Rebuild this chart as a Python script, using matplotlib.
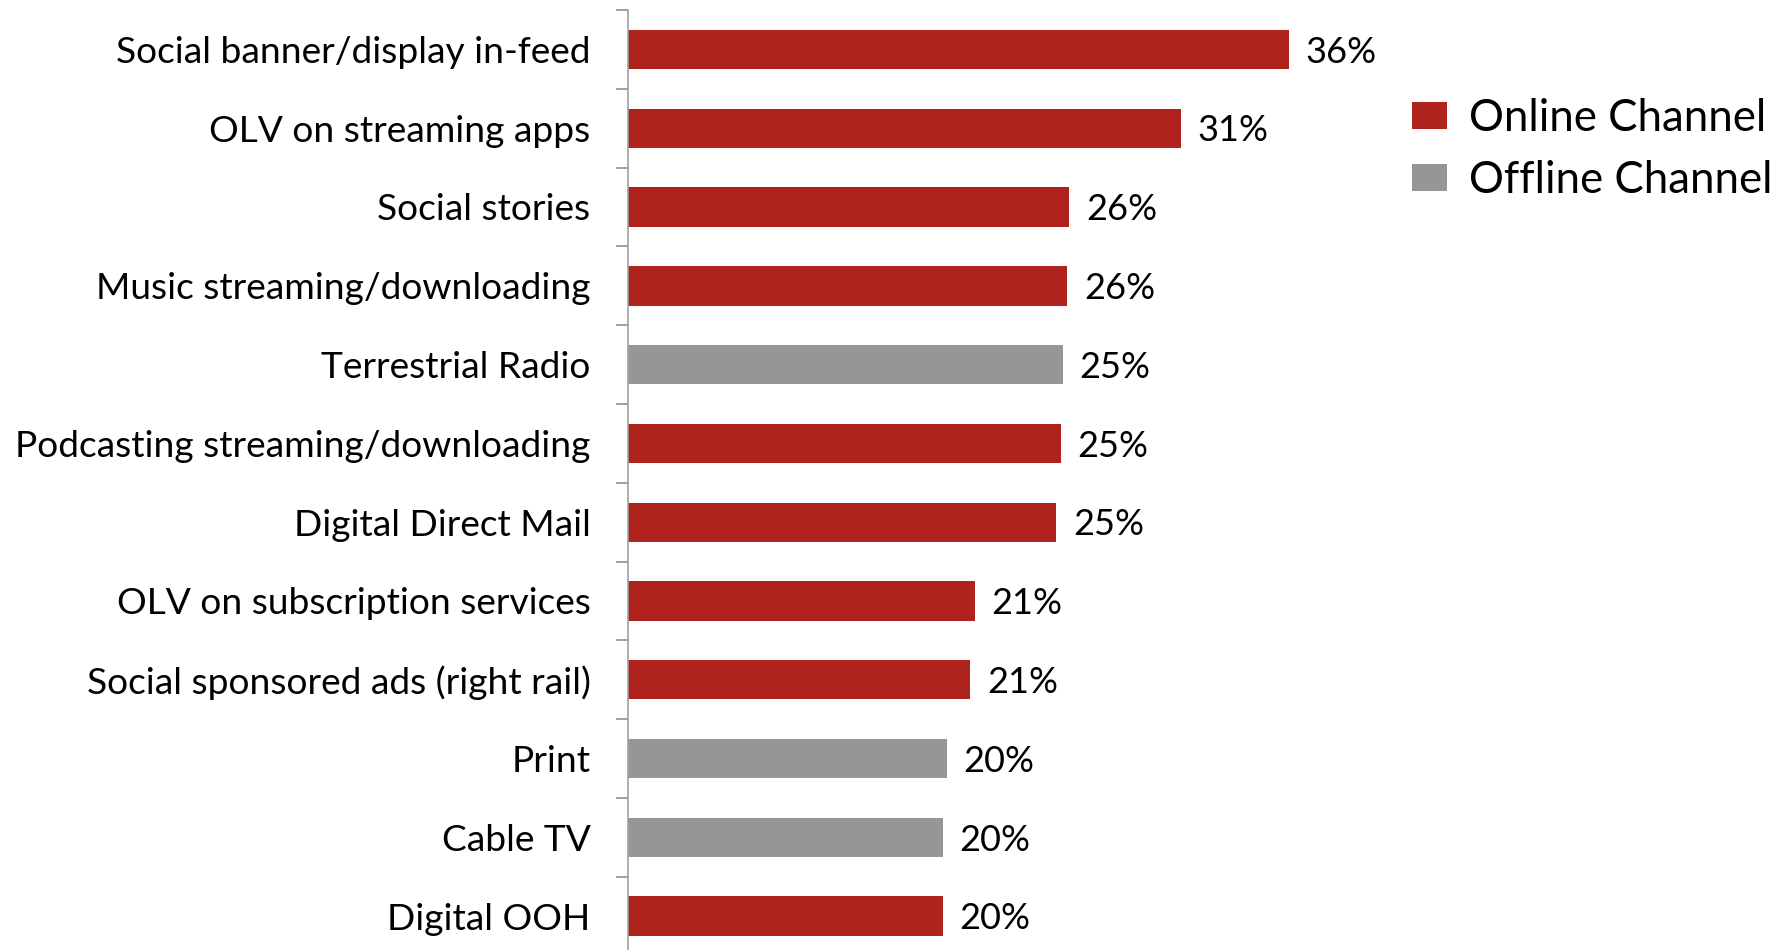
import matplotlib
matplotlib.use("Agg")
import matplotlib.pyplot as plt
from matplotlib.patches import Patch
import numpy as np

# share of respondents per channel, top to bottom
channels = ["Social banner/display in-feed", "OLV on streaming apps", "Social stories",
            "Music streaming/downloading", "Terrestrial Radio", "Podcasting streaming/downloading",
            "Digital Direct Mail", "OLV on subscription services", "Social sponsored ads (right rail)",
            "Print", "Cable TV", "Digital OOH"]
share = [35.9, 30.9, 25.7, 25.6, 25.4, 25.3, 25.1, 21.3, 21.1, 20.0, 19.8, 19.8]
channel_type = ["Online", "Online", "Online", "Online", "Offline", "Online",
                "Online", "Online", "Online", "Offline", "Offline", "Online"]

RED = "#b0231c"
GREY = "#969696"
colors = {"Online": RED, "Offline": GREY}

plt.rcParams["font.family"] = ["Lato", "DejaVu Sans"]

W, H = 1785, 950
fig = plt.figure(figsize=(W / 100, H / 100), dpi=100)

x_min, x_max = 5.17, 41.0
px_per_pct = 21.5
ax_left = 628
ax_top = 10
row_h = 78.8
ax_w = (x_max - x_min) * px_per_pct
ax_h = row_h * len(channels)
ax = fig.add_axes([ax_left / W, (H - ax_top - ax_h) / H, ax_w / W, ax_h / H])

y = np.arange(len(channels))
ax.barh(y, share, height=0.5, color=[colors[t] for t in channel_type], left=0)
ax.set_xlim(x_min, x_max)
ax.set_ylim(len(channels) - 0.5, -0.5)

for yi, v in zip(y, share):
    ax.annotate(f"{v:.0f}%", (v, yi), xytext=(12, -2), textcoords="offset points",
                va="center", ha="left", fontsize=26, color="black")

# category axis: labels without ticks, tick marks between categories
ax.set_yticks(y)
ax.set_yticklabels(channels, fontsize=26.7)
ax.set_yticks(np.arange(-0.5, len(channels), 1.0), minor=True)
ax.tick_params(axis="y", which="major", length=0, pad=27)
ax.tick_params(axis="y", which="minor", length=9, width=1.2, color="#909090")
ax.set_xticks([])
for side in ["top", "right", "bottom"]:
    ax.spines[side].set_visible(False)
ax.spines["left"].set_color("#a0a0a0")
ax.spines["left"].set_linewidth(1.2)

handles = [Patch(facecolor=RED, label="Online Channel"),
           Patch(facecolor=GREY, label="Offline Channel")]
fig.legend(handles=handles, loc="upper left", bbox_to_anchor=(1412 / W, 1 - 98 / H),
           frameon=False, fontsize=31.5, handlelength=0.8, handleheight=0.6,
           handletextpad=0.5, labelspacing=0.48, borderaxespad=0, borderpad=0)

fig.savefig("out.png", dpi=100)
